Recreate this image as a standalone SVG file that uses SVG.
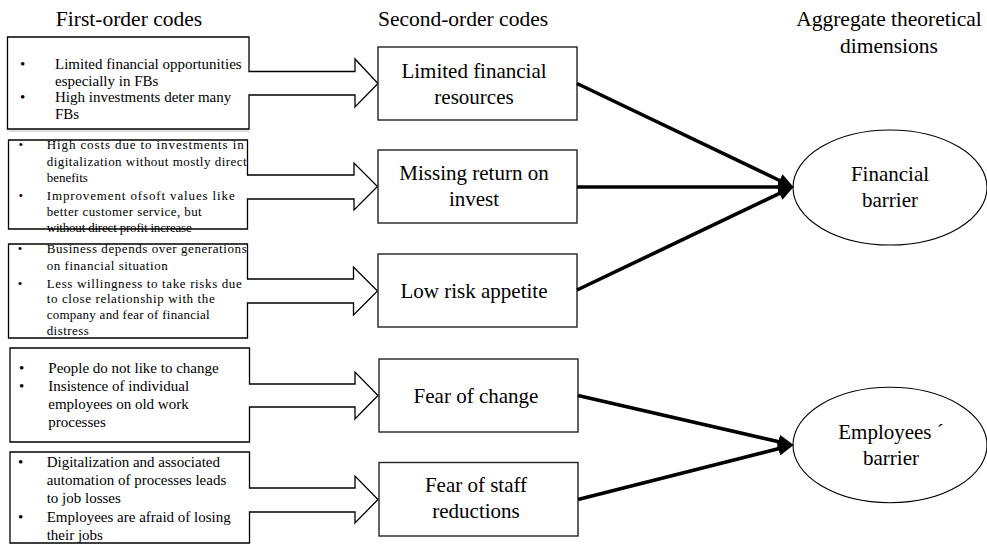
<svg xmlns="http://www.w3.org/2000/svg" width="987" height="544" viewBox="0 0 987 544">
<style>
text{font-family:"Liberation Serif","Times New Roman",serif;fill:#000}
.h{font-size:21.5px;text-anchor:middle}
.big{font-size:21px;text-anchor:middle}
.t15{font-size:15px}
.t13{font-size:13px}
.bul{text-anchor:middle}
.fb{fill:none;stroke:#000;stroke-width:1.3}
.sb{fill:#fff;stroke:#222;stroke-width:1.4}
.el{fill:#fff;stroke:#000;stroke-width:1.1}
.con{stroke:#000;stroke-width:3.6;fill:none;marker-end:url(#ah)}
</style>
<defs>
<marker id="ah" markerUnits="userSpaceOnUse" markerWidth="16" markerHeight="14" viewBox="0 0 16 14" refX="7" refY="7" orient="auto">
<path d="M0,0 L16,7 L0,14 Z" fill="#000"/>
</marker>
</defs>
<rect width="987" height="544" fill="#fff"/>

<g id="headers">
<text class="h" x="129" y="26">First-order codes</text>
<text class="h" x="463" y="26">Second-order codes</text>
<text class="h" x="889" y="26">Aggregate theoretical</text>
<text class="h" x="889" y="52.5">dimensions</text>
</g>

<line x1="8.5" y1="131" x2="249" y2="131" stroke="#bbb" stroke-width="1"/>

<g id="first1">
<path class="fb" d="M7.5,37 H249 V71.5 H355 V59 L378,83.5 L355,107 V95 H249 V129 H7.5 Z"/>
<text class="t15 bul" x="22.7" y="69">•</text>
<text class="t15" x="55" y="69">Limited financial opportunities</text>
<text class="t15" x="55" y="85.5">especially in FBs</text>
<text class="t15 bul" x="22.7" y="102">•</text>
<text class="t15" x="55" y="102">High investments deter many</text>
<text class="t15" x="55" y="118.5">FBs</text>
</g>

<g id="first2">
<path class="fb" d="M8.5,140 H247.5 V175 H354 V163 L377.5,186.5 L354,210 V199 H247.5 V229 H8.5 Z"/>
<text class="t13 bul" x="20.7" y="149">•</text>
<text class="t13" x="46.7" y="149" textLength="197" lengthAdjust="spacing">High costs due to investments in</text>
<text class="t13" x="46.7" y="165.5" textLength="200" lengthAdjust="spacing">digitalization without mostly direct</text>
<text class="t13" x="46.7" y="182">benefits</text>
<text class="t13 bul" x="20.7" y="199.5">•</text>
<text class="t13" x="46.7" y="199.5" textLength="188" lengthAdjust="spacing">Improvement ofsoft values like</text>
<text class="t13" x="46.7" y="215.5" textLength="155" lengthAdjust="spacing">better customer service, but</text>
<text class="t13" x="46.7" y="231.5" textLength="145" lengthAdjust="spacing">without direct profit increase</text>
</g>

<g id="first3">
<path class="fb" d="M8.5,244 H247.5 V279 H353.5 V267 L377.5,291 L353.5,315 V303 H247.5 V338 H8.5 Z"/>
<text class="t13 bul" x="20" y="253">•</text>
<text class="t13" x="46.7" y="253" textLength="200" lengthAdjust="spacing">Business depends over generations</text>
<text class="t13" x="46.7" y="270" textLength="121" lengthAdjust="spacing">on financial situation</text>
<text class="t13 bul" x="20" y="287.5">•</text>
<text class="t13" x="46.7" y="287.5" textLength="195" lengthAdjust="spacing">Less willingness to take risks due</text>
<text class="t13" x="46.7" y="303" textLength="168" lengthAdjust="spacing">to close relationship with the</text>
<text class="t13" x="46.7" y="318.5" textLength="163" lengthAdjust="spacing">company and fear of financial</text>
<text class="t13" x="46.7" y="334.5" textLength="42" lengthAdjust="spacing">distress</text>
</g>

<g id="first4">
<path class="fb" d="M10,348 H249.5 V384 H355 V372 L378,395.5 L355,419 V407 H249.5 V442 H10 Z"/>
<text class="t15 bul" x="21.7" y="373">•</text>
<text class="t15" x="48.3" y="373">People do not like to change</text>
<text class="t15 bul" x="21.7" y="391">•</text>
<text class="t15" x="48.3" y="391">Insistence of individual</text>
<text class="t15" x="48.3" y="409">employees on old work</text>
<text class="t15" x="48.3" y="427">processes</text>
</g>

<g id="first5">
<path class="fb" d="M10,452 H249.5 V488 H355 V476 L378,499.5 L355,523 V512 H249.5 V543 H10 Z"/>
<text class="t15 bul" x="20.7" y="467">•</text>
<text class="t15" x="46.7" y="467">Digitalization and associated</text>
<text class="t15" x="46.7" y="485">automation of processes leads</text>
<text class="t15" x="46.7" y="503">to job losses</text>
<text class="t15 bul" x="20.7" y="521.5">•</text>
<text class="t15" x="46.7" y="521.5">Employees are afraid of losing</text>
<text class="t15" x="46.7" y="540">their jobs</text>
</g>

<g id="second1">
<rect class="sb" x="378" y="47" width="199" height="73"/>
<text class="big" x="474" y="78">Limited financial</text>
<text class="big" x="474" y="104">resources</text>
</g>
<g id="second2">
<rect class="sb" x="378" y="150" width="199" height="73"/>
<text class="big" x="474" y="179.5">Missing return on</text>
<text class="big" x="474" y="205.5">invest</text>
</g>
<g id="second3">
<rect class="sb" x="378" y="254" width="199" height="73"/>
<text class="big" x="474" y="297.5">Low risk appetite</text>
</g>
<g id="second4">
<rect class="sb" x="379" y="359" width="199" height="73"/>
<text class="big" x="476" y="402.5">Fear of change</text>
</g>
<g id="second5">
<rect class="sb" x="379" y="462.5" width="199" height="73.5"/>
<text class="big" x="476" y="491.5">Fear of staff</text>
<text class="big" x="476" y="517.5">reductions</text>
</g>

<g id="financial">
<ellipse class="el" cx="890" cy="187.5" rx="97" ry="57.5"/>
<text class="big" x="890" y="180.5">Financial</text>
<text class="big" x="890" y="206.5">barrier</text>
</g>
<g id="employees">
<ellipse class="el" cx="890" cy="445" rx="97" ry="57.7"/>
<text class="big" x="891" y="439">Employees ´</text>
<text class="big" x="891" y="465">barrier</text>
</g>

<g id="connectors">
<line class="con" x1="577" y1="83.5" x2="785.8" y2="183.5"/>
<line class="con" x1="577" y1="187" x2="785" y2="187"/>
<line class="con" x1="577" y1="290" x2="785.8" y2="190.4"/>
<line class="con" x1="578" y1="395.5" x2="785.2" y2="443.2"/>
<line class="con" x1="578" y1="499.5" x2="785.2" y2="447"/>
</g>
</svg>
